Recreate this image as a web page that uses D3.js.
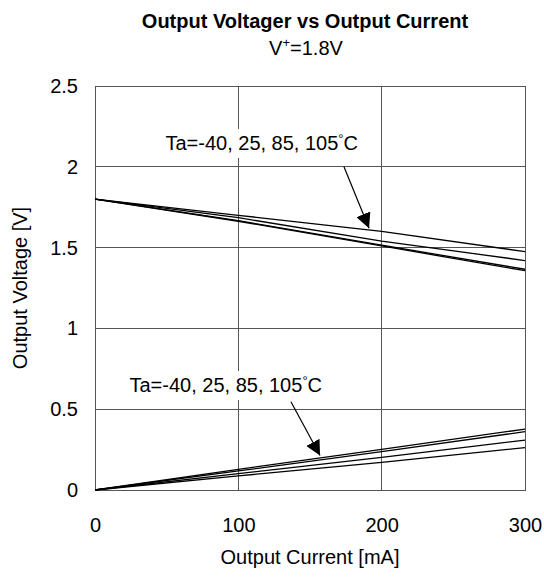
<!DOCTYPE html>
<html>
<head>
<meta charset="utf-8">
<script src="https://cdn.jsdelivr.net/npm/d3@7"></script>
<style>
body { margin: 0; background: #fff; }
text { font-family: Arial, "Liberation Sans", sans-serif; fill: #000; }
</style>
</head>
<body>
<div id="chart"></div>
<script>
// data
var current = [0, 100, 200, 300];
var temps = ["-40", "25", "85", "105"];
var highSide = [
    [1.80, 1.70, 1.60, 1.475],
    [1.80, 1.685, 1.54, 1.42],
    [1.80, 1.667, 1.515, 1.366],
    [1.80, 1.663, 1.51, 1.357]
];
var lowSide = [
    [0, 0.087, 0.171, 0.262],
    [0, 0.101, 0.202, 0.309],
    [0, 0.118, 0.237, 0.361],
    [0, 0.128, 0.252, 0.377]
];
var xTicks = [0, 100, 200, 300];
var yTicks = [0, 0.5, 1, 1.5, 2, 2.5];
var labelText = "Ta=-40, 25, 85, 105";
// annotation: [label x, label y, arrow start x, start y, tip x, tip y] in data units
var noteHigh = [183.5, 2.104, 173.7, 2.0, 191.2, 1.62];
var noteLow = [158.4, 0.606, 136.7, 0.546, 157, 0.213];

var width = 544;
var height = 586;
var fs = "20px";

var svg = d3.select("#chart")
    .append("svg")
    .attr("width", width)
    .attr("height", height);

var x = d3.scaleLinear().domain([0, 300]).range([95, 525]);
var y = d3.scaleLinear().domain([0, 2.5]).range([490, 86]);

svg.append("defs").append("marker")
    .attr("id", "head")
    .attr("viewBox", "0 0 10 10")
    .attr("refX", 10)
    .attr("refY", 5)
    .attr("markerWidth", 15)
    .attr("markerHeight", 15)
    .attr("markerUnits", "userSpaceOnUse")
    .attr("orient", "auto")
    .append("path")
    .attr("d", "M0,0L10,5L0,10Z")
    .attr("fill", "#000");

// grid
svg.append("g")
    .selectAll("line.h")
    .data(yTicks.slice(1, -1))
    .enter()
    .append("line")
    .attr("x1", x(0)).attr("x2", x(300))
    .attr("y1", function (d) { return y(d); })
    .attr("y2", function (d) { return y(d); })
    .attr("stroke", "#555").attr("stroke-width", 1)
    .attr("shape-rendering", "crispEdges");
svg.append("g")
    .selectAll("line.v")
    .data(xTicks.slice(1, -1))
    .enter()
    .append("line")
    .attr("y1", y(0)).attr("y2", y(2.5))
    .attr("x1", function (d) { return x(d); })
    .attr("x2", function (d) { return x(d); })
    .attr("stroke", "#555").attr("stroke-width", 1)
    .attr("shape-rendering", "crispEdges");

svg.append("rect")
    .attr("x", x(0)).attr("y", y(2.5))
    .attr("width", x(300) - x(0))
    .attr("height", y(0) - y(2.5))
    .attr("fill", "none")
    .attr("stroke", "#555")
    .attr("shape-rendering", "crispEdges");

// axes, labels only
var xAxis = svg.append("g")
    .attr("transform", "translate(0," + y(0) + ")")
    .call(d3.axisBottom(x).tickValues(xTicks).tickSize(0).tickPadding(28).tickFormat(d3.format("d")));
var yAxis = svg.append("g")
    .attr("transform", "translate(" + x(0) + ",0)")
    .call(d3.axisLeft(y).tickValues(yTicks).tickSize(0).tickPadding(17).tickFormat(function (d) { return d; }));
[xAxis, yAxis].forEach(function (a) {
    a.select(".domain").remove();
    a.selectAll("text")
        .attr("font-size", fs)
        .attr("font-family", "Arial, 'Liberation Sans', sans-serif")
        .attr("fill", "#000");
});

var line = d3.line()
    .x(function (d, i) { return x(current[i]); })
    .y(function (d) { return y(d); });

svg.append("g")
    .selectAll("path")
    .data(highSide.concat(lowSide))
    .enter()
    .append("path")
    .attr("d", line)
    .attr("fill", "none")
    .attr("stroke", "#000")
    .attr("stroke-width", 1.3);

function note(n) {
    var g = svg.append("g");
    var t = g.append("text")
        .attr("x", x(n[0]))
        .attr("y", y(n[1]))
        .attr("text-anchor", "end")
        .attr("font-size", fs);
    t.append("tspan").text(labelText);
    t.append("tspan").attr("font-size", "13px").attr("dy", -7).text("\u00b0");
    t.append("tspan").attr("dy", 7).text("C");
    var bb = t.node().getBBox();
    g.insert("rect", "text")
        .attr("x", bb.x - 3).attr("y", bb.y - 2)
        .attr("width", bb.width + 6).attr("height", bb.height + 6)
        .attr("fill", "#fff");
    g.append("line")
        .attr("x1", x(n[2])).attr("y1", y(n[3]))
        .attr("x2", x(n[4])).attr("y2", y(n[5]))
        .attr("stroke", "#000")
        .attr("stroke-width", 1.2)
        .attr("marker-end", "url(#head)");
}
note(noteHigh);
note(noteLow);

// titles
svg.append("text")
    .attr("x", 305).attr("y", 28)
    .attr("text-anchor", "middle")
    .attr("font-size", fs)
    .attr("font-weight", "bold")
    .text("Output Voltager vs Output Current");
var sub = svg.append("text")
    .attr("x", 306).attr("y", 55)
    .attr("text-anchor", "middle")
    .attr("font-size", fs);
sub.append("tspan").text("V");
sub.append("tspan").attr("font-size", "13px").attr("dy", -8).text("+");
sub.append("tspan").attr("dy", 8).text("=1.8V");

svg.append("text")
    .attr("x", x(150)).attr("y", 564)
    .attr("text-anchor", "middle")
    .attr("font-size", fs)
    .text("Output Current [mA]");
svg.append("text")
    .attr("transform", "translate(27," + y(1.25) + ") rotate(-90)")
    .attr("text-anchor", "middle")
    .attr("font-size", fs)
    .text("Output Voltage [V]");
</script>
</body>
</html>
